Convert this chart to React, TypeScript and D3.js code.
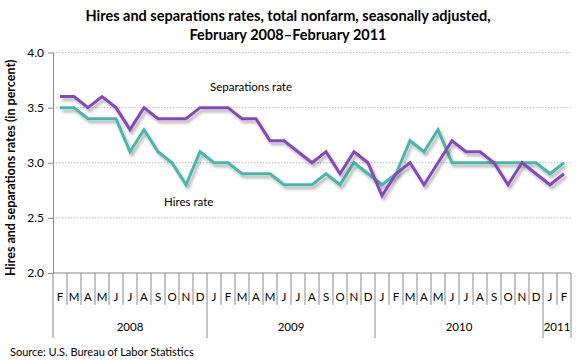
import * as React from "react";
import * as d3 from "d3";

const months = ["F","M","A","M","J","J","A","S","O","N","D","J","F","M","A","M","J","J","A","S","O","N","D","J","F","M","A","M","J","J","A","S","O","N","D","J","F"];
const years = [
  { label: "2008", start: 0, count: 11 },
  { label: "2009", start: 11, count: 12 },
  { label: "2010", start: 23, count: 12 },
  { label: "2011", start: 35, count: 2 },
];
const separations = [3.6,3.6,3.5,3.6,3.5,3.3,3.5,3.4,3.4,3.4,3.5,3.5,3.5,3.4,3.4,3.2,3.2,3.1,3.0,3.1,2.9,3.1,3.0,2.7,2.9,3.0,2.8,3.0,3.2,3.1,3.1,3.0,2.8,3.0,2.9,2.8,2.9];
const hires = [3.5,3.5,3.4,3.4,3.4,3.1,3.3,3.1,3.0,2.8,3.1,3.0,3.0,2.9,2.9,2.9,2.8,2.8,2.8,2.9,2.8,3.0,2.9,2.8,2.9,3.2,3.1,3.3,3.0,3.0,3.0,3.0,3.0,3.0,3.0,2.9,3.0];
const yTicks = [2.0, 2.5, 3.0, 3.5, 4.0];

const font = "Lato, 'Open Sans', sans-serif";

function drawChart(svgRef) {
  const left = 53, right = 571, top = 52.5, bottom = 273;
  const svg = d3.select(svgRef.current);
  svg.selectAll("*").remove();

  const x = d3.scaleBand().domain(d3.range(months.length)).range([left, right]);
  const y = d3.scaleLinear().domain([2, 4]).range([bottom, top]);

  const defs = svg.append("defs");
  const f = defs.append("filter").attr("id", "shadow").attr("x", "-10%").attr("y", "-10%").attr("width", "120%").attr("height", "130%");
  f.append("feDropShadow").attr("dx", 2).attr("dy", 3).attr("stdDeviation", 1.5)
    .attr("flood-color", "#000").attr("flood-opacity", 0.3);

  // title
  const title = svg.append("text").attr("x", 288).attr("text-anchor", "middle")
    .attr("font-family", font).attr("font-weight", "bold").attr("font-size", 14.5).attr("fill", "#000");
  title.append("tspan").attr("x", 288).attr("y", 21).text("Hires and separations rates, total nonfarm, seasonally adjusted,");
  title.append("tspan").attr("x", 288).attr("y", 40).text("February 2008\u2013February 2011");

  // gridlines
  svg.append("g").selectAll("line").data(yTicks.filter(d => d > 2)).enter().append("line")
    .attr("x1", left).attr("x2", right).attr("y1", d => y(d)).attr("y2", d => y(d))
    .attr("stroke", "#bbb").attr("stroke-dasharray", "1.5,1.5").attr("stroke-width", 1);

  // y axis
  const yAxis = svg.append("g").attr("transform", `translate(${left},0)`)
    .call(d3.axisLeft(y).tickValues(yTicks).tickFormat(d3.format(".1f")).tickSize(5).tickSizeOuter(0));
  yAxis.select(".domain").attr("stroke", "#888");
  yAxis.selectAll(".tick line").attr("stroke", "#888");
  yAxis.selectAll(".tick text").attr("font-family", font).attr("font-size", 12).attr("fill", "#000").attr("x", -9);

  svg.append("text").attr("transform", `translate(15,${(top + bottom) / 2 + 5}) rotate(-90)`)
    .attr("text-anchor", "middle").attr("font-family", font).attr("font-weight", "bold").attr("font-size", 12.5)
    .text("Hires and separations rates (in percent)");

  // x axis
  const xg = svg.append("g");
  xg.append("line").attr("x1", left).attr("x2", right).attr("y1", bottom).attr("y2", bottom).attr("stroke", "#888");
  const bounds = d3.range(months.length + 1);
  const yearBounds = new Set(years.map(d => d.start).concat([months.length]));
  xg.selectAll(".sep").data(bounds).enter().append("line")
    .attr("x1", i => i === months.length ? right : x(i)).attr("x2", i => i === months.length ? right : x(i))
    .attr("y1", bottom).attr("y2", i => yearBounds.has(i) ? 338 : 305)
    .attr("stroke", "#888").attr("stroke-width", 1);
  xg.selectAll(".m").data(months).enter().append("text")
    .attr("x", (d, i) => x(i) + x.bandwidth() / 2).attr("y", 301).attr("text-anchor", "middle")
    .attr("font-family", font).attr("font-size", 11.5).text(d => d);
  xg.selectAll(".yr").data(years).enter().append("text")
    .attr("x", d => x(d.start) + (x.bandwidth() * d.count) / 2).attr("y", 331).attr("text-anchor", "middle")
    .attr("font-family", font).attr("font-size", 11.5).text(d => d.label);

  const line = d3.line().x((d, i) => x(i) + x.bandwidth() / 2).y(d => y(d));

  svg.append("path").datum(hires).attr("d", line).attr("fill", "none")
    .attr("stroke", "#4bb5ad").attr("stroke-width", 3).attr("filter", "url(#shadow)");
  svg.append("path").datum(separations).attr("d", line).attr("fill", "none")
    .attr("stroke", "#8549b7").attr("stroke-width", 3).attr("filter", "url(#shadow)");

  svg.append("text").attr("x", 210).attr("y", 91).attr("font-family", font).attr("font-size", 11.5).text("Separations rate");
  svg.append("text").attr("x", 164).attr("y", 206).attr("font-family", font).attr("font-size", 11.5).text("Hires rate");

  svg.append("text").attr("x", 10).attr("y", 356).attr("font-family", font).attr("font-size", 11).text("Source:  U.S. Bureau of Labor Statistics");
}

const App = () => {
  const svgRef = React.useRef(null);
  React.useEffect(() => {
    drawChart(svgRef);
  }, []);
  return (
    <svg ref={svgRef} width={580} height={360} style={{ position: "absolute", left: 0, top: 0, background: "#fff" }} />
  );
};

export default App;
